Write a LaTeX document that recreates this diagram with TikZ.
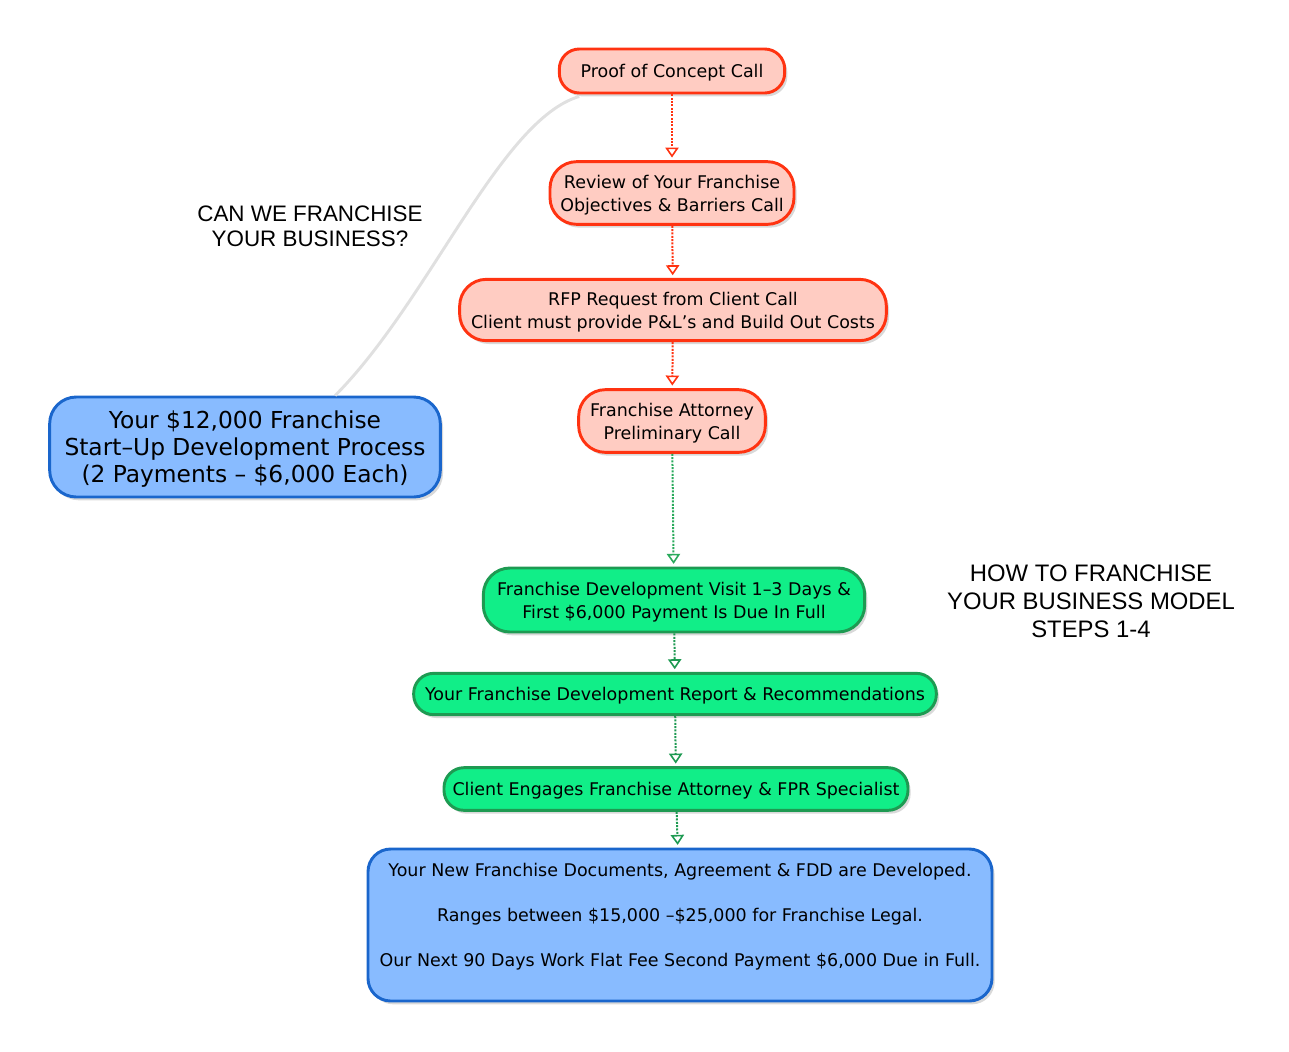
\documentclass[tikz,border=0pt]{standalone}
\usepackage{fontspec}
\setmainfont{DejaVu Sans}
\newfontfamily\headfont{Liberation Sans}
\usetikzlibrary{positioning}
\usetikzlibrary{shadows}
\usetikzlibrary{arrows.meta}

\definecolor{callred}{HTML}{FF3311}
\definecolor{callfill}{HTML}{FFCCC2}
\definecolor{devgreen}{HTML}{1E9A52}
\definecolor{devfill}{HTML}{11EE88}
\definecolor{devlink}{HTML}{2AAA5C}
\definecolor{costblue}{HTML}{1A66CC}
\definecolor{costfill}{HTML}{88BBFF}

\begin{document}
\begin{tikzpicture}[x=0.75pt,y=-0.75pt,
  box/.style={rounded corners=15pt, line width=2.2pt, inner sep=0pt, align=center,
    font=\fontsize{13.1pt}{17.25pt}\selectfont, text depth=0pt,
    drop shadow={shadow xshift=2pt, shadow yshift=-2.5pt, opacity=0.3}},
  callbox/.style={box, draw=callred, fill=callfill},
  devbox/.style={box, draw=devgreen, fill=devfill},
  costbox/.style={box, draw=costblue, fill=costfill},
  tall/.style={rounded corners=20pt},
  link/.style={line width=1.5pt, dash pattern=on 1.5pt off 1pt, shorten >=2pt,
    -{Triangle[open, length=7.5pt, width=10pt, line width=1.2pt]}},
  heading/.style={align=center, font=\headfont\fontsize{16.8pt}{18.75pt}\selectfont}]

\useasboundingbox (0,0) rectangle (1289,1051);

% feasibility calls
\node (proof)[callbox, minimum width=169pt, minimum height=33pt] at (672,71) {Proof of Concept Call};
\node (review)[callbox, tall, minimum width=183pt, minimum height=47pt] at (672,193) {Review of Your Franchise\\Objectives \& Barriers Call};
\node (rfp)[callbox, tall, minimum width=320pt, minimum height=46pt] at (673,310) {RFP Request from Client Call\\Client must provide P\&L’s and Build Out Costs};
\node (attorney)[callbox, tall, minimum width=140pt, minimum height=47pt] at (672,421) {Franchise Attorney\\Preliminary Call};

% development steps
\node (visit)[devbox, tall, minimum width=286pt, minimum height=48pt] at (674,600) {Franchise Development Visit 1–3 Days \&\\First \$6,000 Payment Is Due In Full};
\node (report)[devbox, minimum width=392pt, minimum height=31pt] at (675,694) {Your Franchise Development Report \& Recommendations};
\node (engage)[devbox, minimum width=348pt, minimum height=32pt] at (676,789) {Client Engages Franchise Attorney \& FPR Specialist};

% costs
\node (docs)[costbox, rounded corners=17pt, minimum width=468pt, minimum height=114pt] at (680,925) {Your New Franchise Documents, Agreement \& FDD are Developed.\\[16.5pt]
Ranges between \$15,000 –\$25,000 for Franchise Legal.\\[16.5pt]
Our Next 90 Days Work Flat Fee Second Payment \$6,000 Due in Full.\\[-2.5pt]\mbox{}};
\node (startup)[costbox, tall, minimum width=293pt, minimum height=75pt, font=\fontsize{17.5pt}{20.25pt}\selectfont] at (245,447) {Your \$12,000 Franchise\\Start–Up Development Process\\(2 Payments – \$6,000 Each)};

% headings
\node (canwe)[heading] at (310,226) {CAN WE FRANCHISE\\YOUR BUSINESS?};
\node (howto)[heading, font=\headfont\fontsize{17.9pt}{21pt}\selectfont] at (1091,601) {HOW TO FRANCHISE\\YOUR BUSINESS MODEL\\STEPS 1-4};

\draw [black!12, line width=2.2pt] ([xshift=16pt,yshift=-1.5pt]proof.south west) .. controls (500,120) and (430,300) .. ([xshift=-80pt]startup.north east);

\draw [link, callred] (proof) -- (review);
\draw [link, callred] (review) -- (rfp);
\draw [link, callred] (rfp) -- (attorney);
\draw [link, devlink] (attorney) -- (visit);
\draw [link, devgreen] (visit) -- (report);
\draw [link, devgreen] (report) -- (engage);
\draw [link, devgreen] (engage) -- (docs);
\end{tikzpicture}
\end{document}
